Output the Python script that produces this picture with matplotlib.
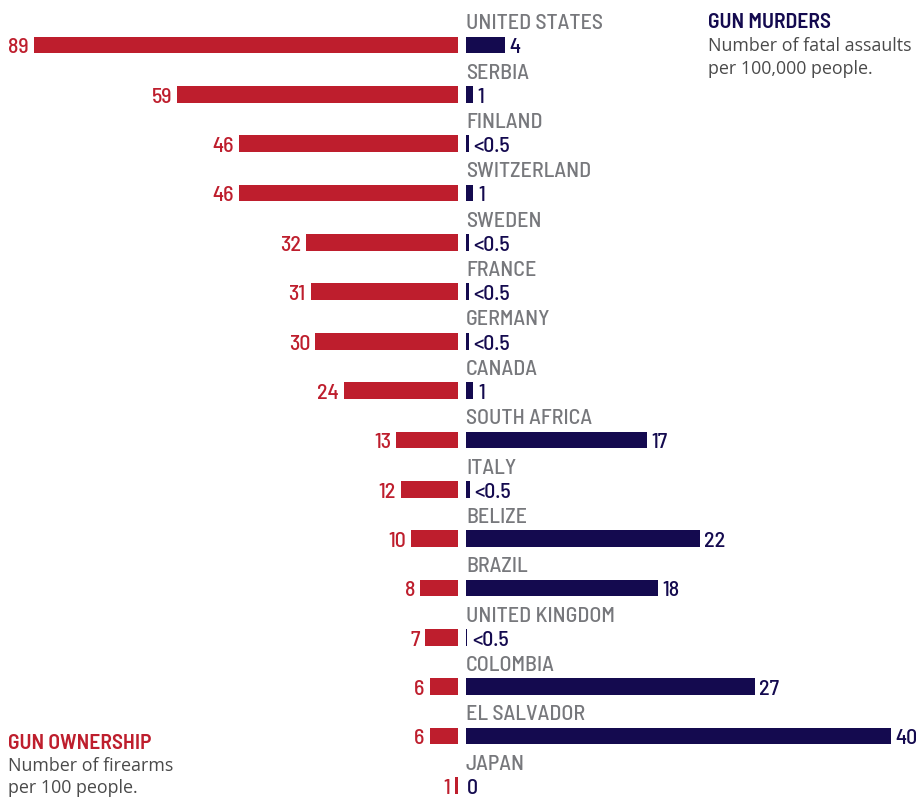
import matplotlib
matplotlib.use('Agg')
import matplotlib.pyplot as plt

countries = ['UNITED STATES', 'SERBIA', 'FINLAND', 'SWITZERLAND', 'SWEDEN', 'FRANCE',
             'GERMANY', 'CANADA', 'SOUTH AFRICA', 'ITALY', 'BELIZE', 'BRAZIL',
             'UNITED KINGDOM', 'COLOMBIA', 'EL SALVADOR', 'JAPAN']

# firearms per 100 people
ownership = [89, 59, 46, 46, 32, 31, 30, 24, 13, 12, 10, 8, 7, 6, 6, 0.6]
ownership_labels = ['89', '59', '46', '46', '32', '31', '30', '24', '13', '12', '10', '8', '7', '6', '6', '1']

# gun murders per 100,000 people (bar lengths)
murders = [3.67, 0.63, 0.24, 0.7, 0.25, 0.25, 0.25, 0.7, 17.0, 0.38, 22.0, 18.1, 0.12, 27.2, 40.0, 0.0]
murder_labels = ['4', '1', '<0.5', '1', '<0.5', '<0.5', '<0.5', '1', '17', '<0.5', '22', '18', '<0.5', '27', '40', '0']

RED = '#be1e2d'
NAVY = '#140a4f'
GRAY = '#77787c'
TEXT = '#4a4a4a'

cond = ['Barlow Semi Condensed', 'Barlow Condensed', 'DejaVu Sans']
sans = ['Open Sans', 'DejaVu Sans']

W, H = 916, 797
fig = plt.figure(figsize=(W / 100, H / 100), dpi=100)

row = 49.36          # pixels between rows
top = 45             # pixel centre of first bar
ylim = ((H - top) / row, -top / row)
bar_h = 16.7 / row

left_px = 458.3
right_px = 466
ax_l = fig.add_axes([0, 0, left_px / W, 1])
ax_r = fig.add_axes([right_px / W, 0, (W - right_px) / W, 1])
ax_l.set_xlim(left_px / 4.767, 0)
ax_r.set_xlim(0, (W - right_px) / 10.625)
for ax in (ax_l, ax_r):
    ax.set_ylim(*ylim)
    ax.axis('off')

y = list(range(len(countries)))
ax_l.barh(y, ownership, height=bar_h, color=RED)
ax_r.barh(y, murders, height=bar_h, color=NAVY)

fs = 15.8
for i in y:
    base = i + bar_h / 2
    ax_l.annotate(ownership_labels[i], (ownership[i], base), xytext=(-5, 0),
                  textcoords='offset pixels', ha='right', va='baseline',
                  color=RED, fontsize=fs, family=cond, weight='medium')
    gap = 4.5 if murders[i] > 0 else 0.5
    ax_r.annotate(murder_labels[i], (murders[i], base), xytext=(gap, 0),
                  textcoords='offset pixels', ha='left', va='baseline',
                  color=NAVY, fontsize=fs, family=cond, weight='medium')
    ax_r.text(0, i - 15.7 / row, countries[i], ha='left', va='baseline',
              color=GRAY, fontsize=fs, family=cond, weight='medium')

# legends
fig.text(708 / W, 1 - 28 / H, 'GUN MURDERS', ha='left', va='baseline',
         color=NAVY, fontsize=15.5, family=cond, weight='semibold')
fig.text(708 / W, 1 - 51 / H, 'Number of fatal assaults', ha='left', va='baseline',
         color=TEXT, fontsize=12.9, family=sans)
fig.text(708 / W, 1 - 74 / H, 'per 100,000 people.', ha='left', va='baseline',
         color=TEXT, fontsize=12.9, family=sans)

fig.text(8 / W, 1 - 749 / H, 'GUN OWNERSHIP', ha='left', va='baseline',
         color=RED, fontsize=15.5, family=cond, weight='semibold')
fig.text(8 / W, 1 - 771 / H, 'Number of firearms', ha='left', va='baseline',
         color=TEXT, fontsize=12.9, family=sans)
fig.text(8 / W, 1 - 793 / H, 'per 100 people.', ha='left', va='baseline',
         color=TEXT, fontsize=12.9, family=sans)

fig.savefig('out.png', dpi=100)
